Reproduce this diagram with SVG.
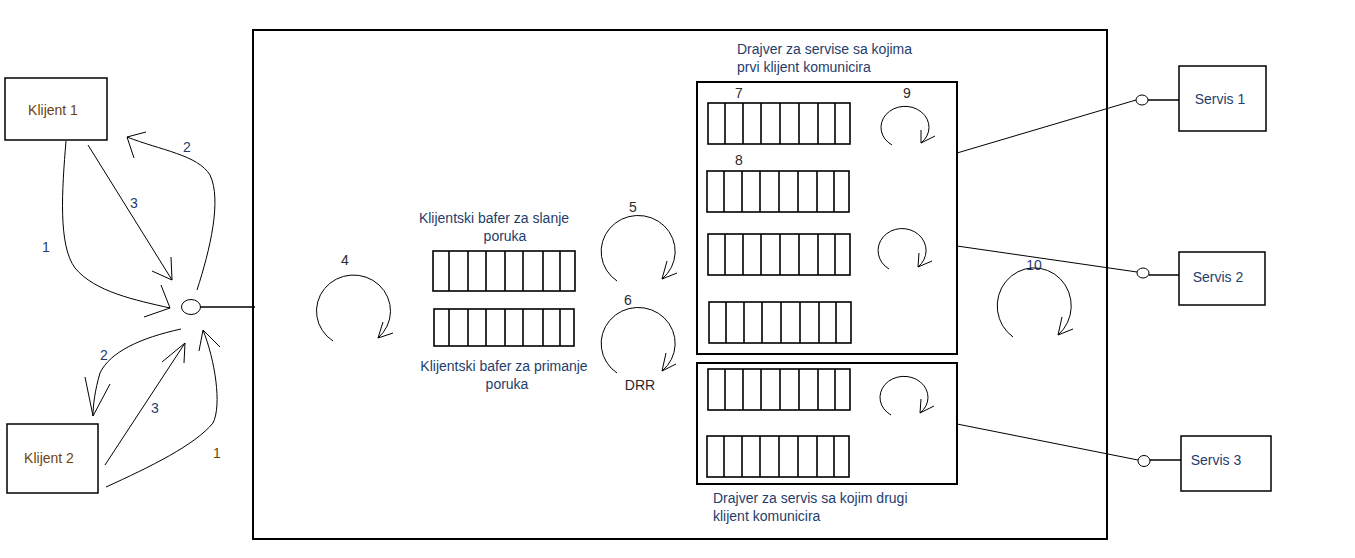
<svg xmlns="http://www.w3.org/2000/svg" xmlns:xlink="http://www.w3.org/1999/xlink" width="1355" height="558" viewBox="0 0 1355 558">
<style>
text{font-family:"Liberation Sans",Arial,sans-serif;font-size:14px}
.blue{fill:#1f3d6b}
.brown{fill:#6e3f0c}
.dark{fill:#2a2a2a}
.mid{text-anchor:middle}
.box{fill:#fff;stroke:#000;stroke-width:2}
.thin{fill:none;stroke:#000;stroke-width:1.5}
.ln{fill:none;stroke:#000;stroke-width:1}
.buf{fill:#fff;stroke:#000;stroke-width:1.6}
</style>
<defs>
<g id="buffer">
<rect class="buf" x="0" y="0" width="142" height="41"/>
<path class="buf" d="M17,0V41M35,0V41M53,0V41M72,0V41M91,0V41M110,0V41M127,0V41"/>
</g>
</defs>
<rect width="1355" height="558" fill="#fff"/>
<g id="main">
<rect class="box" x="253" y="30" width="854" height="509"/>
</g>
<g id="klijent1">
<rect class="thin" x="5" y="78" width="102" height="62"/>
<text class="brown mid" x="53" y="115">Klijent 1</text>
</g>
<g id="klijent2">
<rect class="thin" x="7" y="424" width="91" height="69"/>
<text class="brown mid" x="49" y="463">Klijent 2</text>
</g>
<g id="junction">
<ellipse class="ln" cx="191" cy="307" rx="9.5" ry="7.5"/>
</g>
<g id="loop4">
<text class="dark mid" x="345" y="265">4</text>
</g>
<g id="bafer-slanje">
<text class="blue mid" x="494" y="223">Klijentski bafer za slanje</text>
<text class="blue mid" x="505" y="241">poruka</text>
<rect class="buf" x="433" y="251" width="142" height="40"/>
<path class="buf" d="M449,251V291M468,251V291M486,251V291M505,251V291M523,251V291M543,251V291M560,251V291"/>
</g>
<g id="bafer-primanje">
<rect class="buf" x="434" y="309" width="140" height="37"/>
<path class="buf" d="M449,309V346M468,309V346M486,309V346M505,309V346M523,309V346M543,309V346M560,309V346"/>
<text class="blue mid" x="504" y="371">Klijentski bafer za primanje</text>
<text class="blue mid" x="507" y="389">poruka</text>
</g>
<g id="drr">
<text class="dark mid" x="633" y="212">5</text>
<text class="dark mid" x="628" y="305">6</text>
<text class="dark mid" x="640" y="390">DRR</text>
</g>
<g id="drajver1">
<text class="blue" x="737" y="54">Drajver za servise sa kojima</text>
<text class="blue" x="737" y="72">prvi klijent komunicira</text>
<rect class="box" x="697" y="82" width="260" height="272"/>
<text class="dark mid" x="739" y="98">7</text>
<text class="dark mid" x="907" y="98">9</text>
<text class="dark mid" x="739" y="165">8</text>
<use xlink:href="#buffer" x="708" y="103"/>
<use xlink:href="#buffer" x="707" y="171"/>
<use xlink:href="#buffer" x="708" y="234"/>
<use xlink:href="#buffer" x="709" y="302"/>
</g>
<g id="drajver2">
<rect class="box" x="697" y="363" width="260" height="121"/>
<use xlink:href="#buffer" x="708" y="369"/>
<use xlink:href="#buffer" x="707" y="436"/>
<text class="blue" x="713" y="503">Drajver za servis sa kojim drugi</text>
<text class="blue" x="713" y="521">klijent komunicira</text>
</g>
<g id="loop10">
<text class="blue mid" x="1034" y="270">10</text>
</g>
<g id="servis1">
<rect class="thin" x="1179" y="66" width="87" height="65"/>
<text class="blue mid" x="1220" y="104">Servis 1</text>
</g>
<g id="servis2">
<rect class="thin" x="1179" y="252" width="86" height="53"/>
<text class="blue mid" x="1218" y="282">Servis 2</text>
</g>
<g id="servis3">
<rect class="thin" x="1181" y="436" width="90" height="55"/>
<text class="blue mid" x="1216" y="465">Servis 3</text>
</g>
<g id="connectors">
<path class="thin" d="M200.5,307H255"/>
<path class="ln" d="M66,141 C62,190 58,245 75,268 C95,292 135,300 170,308 M161,285 L170,308 L144,317"/>
<path class="ln" d="M88,145 L172,280 M171,257 L172,280 L152,271"/>
<path class="ln" d="M197,290 C210,250 222,200 210,175 C198,155 160,150 127,137 M146,132 L127,137 L134,158"/>
<path class="ln" d="M181,329 C140,338 110,352 100,373 C95,390 93,405 93,416 M85,377 L93,416 L110,384"/>
<path class="ln" d="M105,465 L185,343 M184,363 L185,343 L162,362"/>
<path class="ln" d="M106,487 C150,467 195,445 213,423 C222,405 215,360 203,330 M199,351 L203,330 L220,347"/>
<text class="blue mid" x="46" y="252">1</text>
<text class="blue mid" x="187" y="152">2</text>
<text class="blue mid" x="134" y="208">3</text>
<text class="blue mid" x="104" y="360">2</text>
<text class="blue mid" x="155" y="413">3</text>
<text class="brown mid" x="217" y="458">1</text>
<path class="ln" d="M333,341 A37,36 0 1,1 378,338 M383,322 L378,338 L393,333"/>
<path class="ln" d="M617,281 A37,36 0 1,1 662,279 M667,261 L662,279 L677,273"/>
<path class="ln" d="M617,373 A37,36 0 1,1 662,371 M666,353 L662,371 L676,364"/>
<path class="ln" d="M892,145 A24,21 0 1,1 921,143 M921,130 L921,143 L935,136"/>
<path class="ln" d="M889,269 A24,22 0 1,1 918,267 M919,253 L918,267 L932,261"/>
<path class="ln" d="M891,415 A24,21 0 1,1 920,413 M921,399 L920,413 L934,406"/>
<path class="ln" d="M1013,337 A37,38 0 1,1 1058,335 M1062,317 L1058,335 L1073,329"/>
<path class="ln" d="M957,153 L1136,100"/>
<ellipse class="ln" cx="1142" cy="100" rx="6" ry="5"/>
<path class="thin" d="M1148,100H1179"/>
<path class="ln" d="M957,246 L1137,272"/>
<ellipse class="ln" cx="1143" cy="273" rx="6" ry="5"/>
<path class="thin" d="M1149,275H1179"/>
<path class="ln" d="M957,424 L1138,460"/>
<ellipse class="ln" cx="1144" cy="461" rx="6" ry="5.5"/>
<path class="thin" d="M1150,460H1181"/>
</g>
</svg>
